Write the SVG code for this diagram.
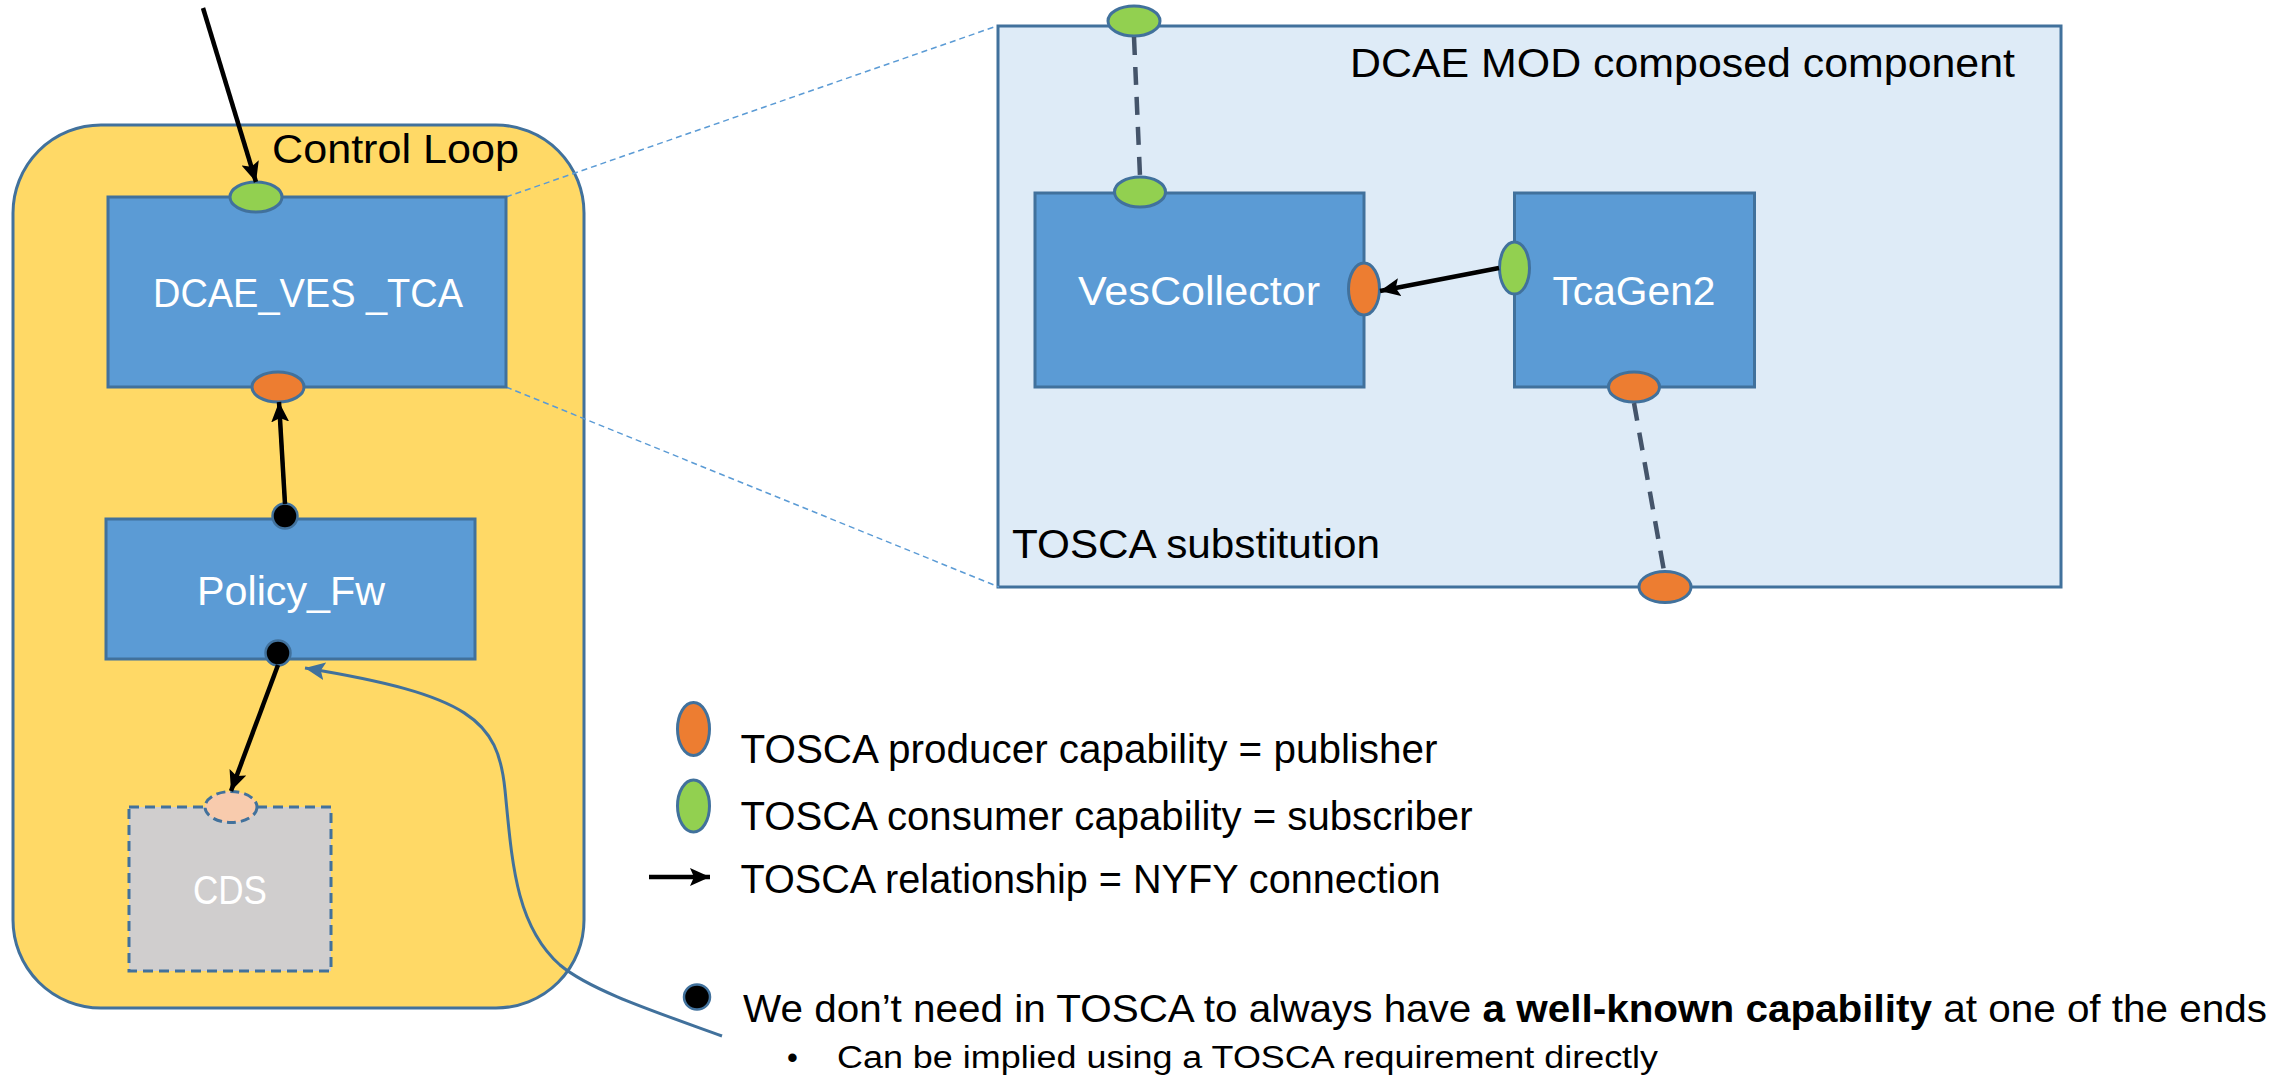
<svg xmlns="http://www.w3.org/2000/svg" width="2291" height="1079" viewBox="0 0 2291 1079">
<style>
text{font-family:"Liberation Sans",Arial,sans-serif}
.lbl{font-size:40px;fill:#000}
.wl{font-size:41px;fill:#fff;text-anchor:middle}
.node{fill:#5B9BD5;stroke:#41719C;stroke-width:3}
.grn{fill:#92D050;stroke:#41719C;stroke-width:3}
.org{fill:#ED7D31;stroke:#41719C;stroke-width:3}
.dot{fill:#000;stroke:#41719C;stroke-width:2.5}
.rel{stroke:#000;stroke-width:4.5;fill:none}
.sub{stroke:#44546A;stroke-width:4.5;stroke-dasharray:18 12;fill:none}
.proj{stroke:#5B9BD5;stroke-width:1.5;stroke-dasharray:6 4;fill:none}
</style>
<defs>
<marker id="ah" markerUnits="userSpaceOnUse" markerWidth="22" markerHeight="18" refX="20" refY="9" orient="auto">
<path d="M0,0 L20,9 L0,18 L4,9 Z" fill="#000"/>
</marker>
<marker id="bh" markerUnits="userSpaceOnUse" markerWidth="22" markerHeight="18" refX="20" refY="9" orient="auto">
<path d="M0,0 L20,9 L0,18 L4,9 Z" fill="#41719C"/>
</marker>
</defs>

<g id="control-loop">
<rect x="13" y="125" width="571" height="883" rx="88" ry="88" fill="#FFD966" stroke="#41719C" stroke-width="3"/>
<text class="lbl" x="272" y="163" textLength="247" lengthAdjust="spacingAndGlyphs">Control Loop</text>
</g>

<g id="dcae-mod">
<rect x="998" y="26" width="1063" height="561" fill="#DEEBF7" stroke="#41719C" stroke-width="3"/>
<text class="lbl" x="1350" y="77" textLength="665" lengthAdjust="spacingAndGlyphs">DCAE MOD composed component</text>
<text class="lbl" x="1012" y="558" textLength="368" lengthAdjust="spacingAndGlyphs">TOSCA substitution</text>
</g>

<g id="projection">
<line class="proj" x1="506" y1="197" x2="997" y2="26"/>
<line class="proj" x1="506" y1="387" x2="999" y2="587"/>
</g>

<g id="dcae-ves-tca">
<rect class="node" x="108" y="197" width="398" height="190"/>
<text class="wl" x="308" y="307" textLength="310" lengthAdjust="spacingAndGlyphs">DCAE_VES _TCA</text>
<ellipse class="grn" cx="256" cy="197" rx="26" ry="15"/>
<ellipse class="org" cx="278" cy="387" rx="26" ry="15"/>
</g>

<g id="policy-fw">
<rect class="node" x="106" y="519" width="369" height="140"/>
<text class="wl" x="291" y="605" textLength="188" lengthAdjust="spacingAndGlyphs">Policy_Fw</text>
<ellipse class="dot" cx="285" cy="516" rx="12.5" ry="12.5"/>
<ellipse class="dot" cx="278" cy="653" rx="12.5" ry="12.5"/>
</g>

<g id="cds">
<rect x="129" y="807" width="202" height="164" fill="#D0CECE" stroke="#41719C" stroke-width="3" stroke-dasharray="10 6"/>
<ellipse cx="231" cy="807" rx="26" ry="15.5" fill="#F8CBAD" stroke="#41719C" stroke-width="3" stroke-dasharray="9 5"/>
<text class="wl" x="230" y="904" textLength="74" lengthAdjust="spacingAndGlyphs">CDS</text>
</g>

<g id="ves-collector">
<rect class="node" x="1035" y="193" width="329" height="194"/>
<text class="wl" x="1199" y="305" textLength="242" lengthAdjust="spacingAndGlyphs">VesCollector</text>
<ellipse class="grn" cx="1140" cy="192" rx="25.5" ry="15"/>
<ellipse class="org" cx="1364" cy="289" rx="15.5" ry="26"/>
</g>

<g id="tcagen2">
<rect class="node" x="1514.5" y="193" width="240" height="194"/>
<text class="wl" x="1634" y="305" textLength="163" lengthAdjust="spacingAndGlyphs">TcaGen2</text>
<ellipse class="grn" cx="1514.5" cy="268" rx="15" ry="26"/>
<ellipse class="org" cx="1634" cy="387" rx="25.5" ry="15"/>
</g>

<g id="boundary-ports">
<ellipse class="grn" cx="1134" cy="21" rx="26" ry="15"/>
<ellipse class="org" cx="1665" cy="587" rx="26" ry="15.5"/>
</g>

<g id="connectors">
<line class="sub" x1="1134" y1="37" x2="1140" y2="176"/>
<line class="sub" x1="1634" y1="403" x2="1664" y2="571"/>
<line class="rel" x1="203" y1="8" x2="256" y2="182" marker-end="url(#ah)"/>
<line class="rel" x1="285" y1="504" x2="279" y2="402" marker-end="url(#ah)"/>
<line class="rel" x1="278" y1="665" x2="231" y2="791" marker-end="url(#ah)"/>
<line class="rel" x1="1499" y1="268" x2="1380" y2="291" marker-end="url(#ah)"/>
<path d="M722,1036 C650,1010 590,990 560,965 C515,925 512,860 505,790 C498,720 470,695 305,668" stroke="#41719C" stroke-width="3" fill="none" marker-end="url(#bh)"/>
</g>

<g id="legend">
<ellipse class="org" cx="693.5" cy="729" rx="16" ry="26.5"/>
<text class="lbl" x="740.5" y="763" textLength="697" lengthAdjust="spacingAndGlyphs">TOSCA producer capability = publisher</text>
<ellipse class="grn" cx="693.5" cy="806" rx="16" ry="26"/>
<text class="lbl" x="740.5" y="830" textLength="732" lengthAdjust="spacingAndGlyphs">TOSCA consumer capability = subscriber</text>
<line class="rel" x1="649" y1="877" x2="710" y2="877" marker-end="url(#ah)"/>
<text class="lbl" x="740.5" y="893" textLength="700" lengthAdjust="spacingAndGlyphs">TOSCA relationship = NYFY connection</text>
<ellipse class="dot" cx="697" cy="997" rx="13" ry="12.5"/>
<text x="743" y="1022" font-size="38" textLength="1524" lengthAdjust="spacingAndGlyphs">We don’t need in TOSCA to always have <tspan font-weight="bold">a well-known capability</tspan> at one of the ends</text>
<text x="787" y="1068" font-size="31">•</text>
<text x="837" y="1068" font-size="31" textLength="821" lengthAdjust="spacingAndGlyphs">Can be implied using a TOSCA requirement directly</text>
</g>
</svg>
